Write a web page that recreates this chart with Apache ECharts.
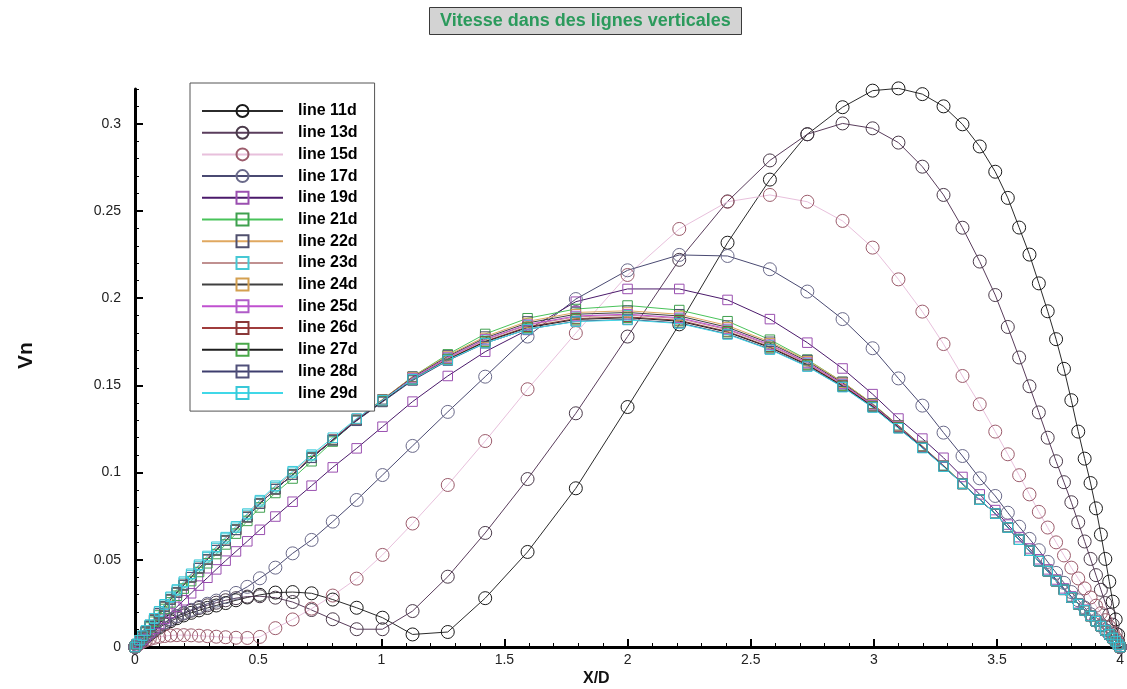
<!DOCTYPE html>
<html>
<head>
<meta charset="utf-8">
<script src="https://cdn.jsdelivr.net/npm/echarts@6/dist/echarts.min.js"></script>
<style>html,body{margin:0;padding:0;background:#fff;}#c{width:1127px;height:689px;}</style>
</head>
<body>
<div id="c"></div>
<script>
// shared x/D grid
const xs = [0,0.008,0.018,0.03,0.044,0.06,0.078,0.098,0.12,0.144,
0.17,0.198,0.228,0.26,0.294,0.33,0.368,0.41,0.456,0.507,
0.57,0.64,0.717,0.803,0.9,1.005,1.127,1.27,1.422,1.594,
1.79,2.0,2.21,2.406,2.578,2.73,2.873,2.995,3.1,3.197,
3.283,3.36,3.43,3.493,3.544,3.59,3.632,3.67,3.706,3.74,
3.772,3.802,3.83,3.856,3.88,3.902,3.922,3.94,3.956,3.97,
3.982,3.992,4.0];

const xTicks = [0,0.5,1,1.5,2,2.5,3,3.5,4];
const yTicks = [0,0.05,0.1,0.15,0.2,0.25,0.3];

const line11d = [0,0.001,0.0023,0.0038,0.0055,0.0073,0.0092,0.0111,0.013,0.0148,
0.0165,0.0181,0.0196,0.021,0.0224,0.0238,0.0252,0.0268,0.0284,0.0299,
0.0312,0.0315,0.0308,0.0272,0.0225,0.0168,0.0072,0.0086,0.028,0.0545,
0.091,0.1376,0.185,0.2318,0.268,0.294,0.3095,0.319,0.3203,0.317,
0.31,0.2997,0.287,0.2725,0.2575,0.2405,0.225,0.2085,0.1925,0.1765,
0.1595,0.1415,0.1235,0.108,0.094,0.0795,0.0645,0.0505,0.0375,0.026,
0.0158,0.007,0];

const line13d = [0,0.0011,0.0025,0.0041,0.0059,0.0078,0.0098,0.0118,0.0138,0.0157,
0.0175,0.0192,0.0208,0.0224,0.0239,0.0254,0.0268,0.028,0.0289,0.0291,
0.0283,0.0258,0.0212,0.0159,0.0102,0.0102,0.0206,0.0403,0.0654,0.0963,
0.134,0.178,0.222,0.2555,0.279,0.294,0.3002,0.2974,0.2892,0.2754,
0.2592,0.2404,0.221,0.2018,0.1835,0.166,0.1495,0.1345,0.12,0.1065,
0.0945,0.083,0.0715,0.0605,0.0505,0.0412,0.0328,0.0252,0.0185,0.0128,
0.0078,0.0034,0];

const line15d = [0,0.0009,0.0019,0.0029,0.0038,0.0046,0.0053,0.0059,0.0063,0.0066,
0.0068,0.0068,0.0067,0.0065,0.0062,0.0059,0.0056,0.0053,0.0052,0.0058,
0.0108,0.0158,0.022,0.0295,0.0392,0.0528,0.0708,0.0929,0.1181,0.1478,
0.18,0.2133,0.2397,0.2553,0.2592,0.2553,0.2443,0.229,0.2108,0.1923,
0.1737,0.1554,0.1392,0.1235,0.1105,0.0985,0.0875,0.0775,0.0685,0.06,
0.0525,0.0455,0.0393,0.0336,0.0284,0.0237,0.0194,0.0154,0.0117,0.0083,
0.0052,0.0023,0];

const line17d = [0,0.0012,0.0026,0.0043,0.0062,0.0082,0.0102,0.0122,0.0141,0.016,
0.0178,0.0196,0.0213,0.023,0.0248,0.0266,0.0286,0.031,0.0345,0.0394,
0.0455,0.0537,0.0614,0.0719,0.0843,0.0986,0.1153,0.1348,0.155,0.178,
0.1995,0.216,0.2248,0.2242,0.2166,0.2038,0.188,0.1713,0.154,0.1384,
0.1229,0.1095,0.0967,0.0866,0.077,0.069,0.062,0.0555,0.0488,0.0425,
0.0368,0.0315,0.0268,0.0226,0.0188,0.0154,0.0124,0.0097,0.0073,0.0052,
0.0032,0.0014,0];

const line19d = [0,0.0011,0.0025,0.0041,0.006,0.0081,0.0105,0.0132,0.0162,0.0195,
0.023,0.0268,0.0308,0.0352,0.0397,0.0445,0.0495,0.0548,0.0606,0.0672,
0.0748,0.0833,0.0925,0.103,0.1139,0.1263,0.1407,0.1554,0.1693,0.1818,
0.198,0.2053,0.2053,0.199,0.188,0.1745,0.1597,0.145,0.131,0.1195,
0.1085,0.0975,0.0875,0.0785,0.0702,0.063,0.0565,0.0503,0.0445,0.0387,
0.0336,0.029,0.0251,0.0214,0.0181,0.015,0.0122,0.0097,0.0073,0.0053,
0.0033,0.0014,0];

const line21d = [0,0.0015,0.0034,0.0056,0.0082,0.0112,0.0145,0.0181,0.0218,0.0256,
0.0294,0.0335,0.0378,0.043,0.048,0.0533,0.0588,0.065,0.0723,0.08,
0.0883,0.0966,0.1065,0.1178,0.1303,0.1418,0.155,0.1678,0.1795,0.1885,
0.1938,0.1958,0.1932,0.1868,0.1762,0.1648,0.152,0.1395,0.127,0.1152,
0.1041,0.0938,0.0845,0.0765,0.0685,0.0615,0.0552,0.0492,0.0435,0.0378,
0.0328,0.0284,0.0246,0.021,0.0178,0.0148,0.012,0.0095,0.0072,0.0052,
0.0032,0.0014,0];

const line22d = [0,0.0016,0.0036,0.006,0.0088,0.012,0.0155,0.0193,0.0232,0.0272,
0.0312,0.0355,0.04,0.0452,0.0502,0.0555,0.061,0.0672,0.0745,0.0822,
0.0905,0.0988,0.1085,0.119,0.1307,0.142,0.155,0.1672,0.178,0.1867,
0.1918,0.1928,0.1908,0.1843,0.175,0.1645,0.152,0.1395,0.127,0.1152,
0.104,0.0935,0.0845,0.0765,0.0685,0.0615,0.0552,0.0492,0.0435,0.0378,
0.0328,0.0284,0.0246,0.021,0.0178,0.0148,0.012,0.0095,0.0072,0.0052,
0.0032,0.0014,0];

const line23d = [0,0.0017,0.0038,0.0063,0.0093,0.0127,0.0163,0.0202,0.0242,0.0283,
0.0324,0.0367,0.0412,0.0464,0.0514,0.0567,0.0622,0.0684,0.0757,0.0834,
0.0917,0.1,0.1095,0.1188,0.1302,0.1413,0.1539,0.1657,0.1761,0.1845,
0.1893,0.1903,0.1883,0.1819,0.1729,0.1628,0.1506,0.1385,0.1263,0.1147,
0.1038,0.0937,0.0846,0.0766,0.0686,0.0616,0.0553,0.0493,0.0436,0.0379,
0.0329,0.0285,0.0247,0.0211,0.0179,0.0149,0.0121,0.0096,0.0073,0.0053,
0.0033,0.0015,0];

const line24d = [0,0.0016,0.0036,0.006,0.0088,0.012,0.0155,0.0193,0.0232,0.0272,
0.0312,0.0355,0.04,0.0452,0.0502,0.0555,0.061,0.0672,0.0745,0.0822,
0.0905,0.0988,0.1085,0.1189,0.1305,0.1417,0.1546,0.1666,0.1772,0.1858,
0.1908,0.1918,0.1898,0.1833,0.1742,0.1638,0.1514,0.1391,0.1267,0.115,
0.1039,0.0935,0.0845,0.0765,0.0685,0.0615,0.0552,0.0492,0.0435,0.0378,
0.0328,0.0284,0.0246,0.021,0.0178,0.0148,0.012,0.0095,0.0072,0.0052,
0.0032,0.0014,0];

const line25d = [0,0.0016,0.0036,0.006,0.0088,0.012,0.0155,0.0193,0.0232,0.0272,
0.0312,0.0355,0.04,0.0452,0.0502,0.0555,0.061,0.0672,0.0745,0.0822,
0.0905,0.0988,0.1085,0.1188,0.1303,0.1414,0.1542,0.166,0.1765,0.1849,
0.1898,0.1908,0.1888,0.1824,0.1734,0.1631,0.1509,0.1387,0.1264,0.1148,
0.1038,0.0935,0.0845,0.0765,0.0685,0.0615,0.0552,0.0492,0.0435,0.0378,
0.0328,0.0284,0.0246,0.021,0.0178,0.0148,0.012,0.0095,0.0072,0.0052,
0.0032,0.0014,0];

const line26d = [0,0.0016,0.0036,0.006,0.0088,0.012,0.0155,0.0193,0.0232,0.0272,
0.0312,0.0355,0.04,0.0452,0.0502,0.0555,0.061,0.0672,0.0745,0.0822,
0.0905,0.0988,0.1085,0.1187,0.13,0.141,0.1535,0.1651,0.1753,0.1836,
0.1883,0.1893,0.1873,0.1809,0.1721,0.1621,0.15,0.1381,0.126,0.1145,
0.1037,0.0935,0.0845,0.0765,0.0685,0.0615,0.0552,0.0492,0.0435,0.0378,
0.0328,0.0284,0.0246,0.021,0.0178,0.0148,0.012,0.0095,0.0072,0.0052,
0.0032,0.0014,0];

const line27d = [0,0.0016,0.0036,0.006,0.0088,0.012,0.0155,0.0193,0.0232,0.0272,
0.0312,0.0355,0.04,0.0452,0.0502,0.0555,0.061,0.0672,0.0745,0.0822,
0.0905,0.0988,0.1085,0.1186,0.1299,0.1408,0.1533,0.1648,0.175,0.1831,
0.1878,0.1888,0.1868,0.1805,0.1717,0.1617,0.1497,0.1379,0.1258,0.1144,
0.1036,0.0935,0.0845,0.0765,0.0685,0.0615,0.0552,0.0492,0.0435,0.0378,
0.0328,0.0284,0.0246,0.021,0.0178,0.0148,0.012,0.0095,0.0072,0.0052,
0.0032,0.0014,0];

const line28d = [0,0.0016,0.0036,0.006,0.0088,0.012,0.0155,0.0193,0.0232,0.0272,
0.0312,0.0355,0.04,0.0452,0.0502,0.0555,0.061,0.0672,0.0745,0.0822,
0.0905,0.0988,0.1085,0.1185,0.1297,0.1405,0.1528,0.1642,0.1742,0.1822,
0.1868,0.1878,0.1858,0.1795,0.1708,0.161,0.1492,0.1375,0.1255,0.1142,
0.1035,0.0935,0.0845,0.0765,0.0685,0.0615,0.0552,0.0492,0.0435,0.0378,
0.0328,0.0284,0.0246,0.021,0.0178,0.0148,0.012,0.0095,0.0072,0.0052,
0.0032,0.0014,0];

const line29d = [0,0.0017,0.0039,0.0065,0.0095,0.0128,0.0165,0.0205,0.0245,0.0288,
0.033,0.0375,0.042,0.0472,0.0522,0.0575,0.063,0.0692,0.0765,0.0842,
0.0925,0.1008,0.1103,0.12,0.131,0.1415,0.1535,0.1645,0.1742,0.1822,
0.1866,0.1875,0.1855,0.1792,0.1705,0.1608,0.149,0.1373,0.1254,0.1141,
0.1034,0.0935,0.0845,0.0765,0.0685,0.0615,0.0552,0.0492,0.0435,0.0378,
0.0328,0.0284,0.0246,0.021,0.0178,0.0148,0.012,0.0095,0.0072,0.0052,
0.0032,0.0014,0];

const seriesNames = ['line 11d','line 13d','line 15d','line 17d','line 19d','line 21d','line 22d','line 23d','line 24d','line 25d','line 26d','line 27d','line 28d','line 29d'];
const seriesValues = [line11d,line13d,line15d,line17d,line19d,line21d,line22d,line23d,line24d,line25d,line26d,line27d,line28d,line29d];
const symbols = ['circle','circle','circle','circle','rect','rect','rect','rect','rect','rect','rect','rect','rect','rect'];
const lineColors = ['#2b2b2b','#5a3d5c','#e8c0dc','#4a4a72','#4b1a6b','#49c35a','#e0a860','#c09090','#404040','#c050d0','#a03c3c','#1e1e1e','#3e3e6e','#40d8e8'];
const markerColors = ['#1a1a1a','#4a3a4a','#9c5c6c','#6a6a8a','#9a4fb0','#3fa04f','#50506e','#46c8d4','#d4a050','#b05cc8','#8a3838','#4aa84a','#50507a','#38c8d8'];

const FONT = "'Liberation Sans', Arial, sans-serif";
const chart = echarts.init(document.getElementById('c'), null, {renderer: 'canvas'});

function isTick(v, ticks) { return ticks.some(t => Math.abs(t - v) < 1e-6); }

const series = seriesNames.map((name, i) => ({
  name: name,
  type: 'line',
  xAxisIndex: 0,
  yAxisIndex: 0,
  data: xs.map((x, j) => [x, seriesValues[i][j]]),
  symbol: symbols[i],
  symbolSize: symbols[i] === 'circle' ? 13 : 9.5,
  showSymbol: true,
  clip: false,
  lineStyle: {color: lineColors[i], width: 1},
  itemStyle: {color: 'rgba(255,255,255,0)', borderColor: markerColors[i], borderWidth: 1},
  emphasis: {disabled: true},
  animation: false
}));

const option = {
  animation: false,
  backgroundColor: '#ffffff',
  title: {
    text: 'Vitesse dans des lignes verticales',
    left: 429, top: 7,
    padding: [5, 11, 5, 11],
    backgroundColor: '#d3d3d3',
    borderColor: '#3a3a3a',
    borderWidth: 1,
    textStyle: {color: '#2b9a5c', fontWeight: 'bold', fontSize: 18, fontFamily: FONT}
  },
  legend: {
    orient: 'vertical',
    left: 190, top: 83,
    padding: [20, 17, 10, 11],
    itemWidth: 81, itemHeight: 15, itemGap: 5.7,
    backgroundColor: '#ffffff',
    borderColor: '#555555', borderWidth: 1,
    textStyle: {color: '#000', fontWeight: 'bold', fontSize: 16, fontFamily: FONT, padding: [0, 0, 0, 10]},
    data: seriesNames
  },
  grid: {left: 135, right: 4, top: 88.9, bottom: 42},
  xAxis: [
    {
      type: 'value', min: 0, max: 4, interval: 0.1, position: 'bottom',
      axisLine: {show: true, lineStyle: {color: '#000', width: 3}},
      axisTick: {show: true, inside: true, length: 4, lineStyle: {color: '#000', width: 1}},
      axisLabel: {show: true, interval: 0, margin: 6, color: '#222', fontSize: 14, fontFamily: FONT,
        customValues: xTicks,
        formatter: v => isTick(v, xTicks) ? String(+v.toFixed(2)) : ''},
      splitLine: {show: false}
    },
    {
      type: 'value', min: 0, max: 4, interval: 0.5, position: 'bottom', offset: 0,
      axisLine: {show: false},
      axisTick: {show: true, inside: true, length: 8, lineStyle: {color: '#000', width: 2}, customValues: xTicks},
      axisLabel: {show: false},
      splitLine: {show: false}
    }
  ],
  yAxis: [
    {
      type: 'value', min: 0, max: 0.32, interval: 0.01, position: 'left',
      axisLine: {show: true, lineStyle: {color: '#000', width: 3}},
      axisTick: {show: true, inside: true, length: 4, lineStyle: {color: '#000', width: 1}},
      axisLabel: {show: true, interval: 0, margin: 14, color: '#222', fontSize: 14, fontFamily: FONT,
        customValues: yTicks,
        formatter: v => isTick(v, yTicks) ? String(+v.toFixed(2)) : ''},
      splitLine: {show: false}
    },
    {
      type: 'value', min: 0, max: 0.32, interval: 0.05, position: 'left', offset: 0,
      axisLine: {show: false},
      axisTick: {show: true, inside: true, length: 8, lineStyle: {color: '#000', width: 2}, customValues: yTicks},
      axisLabel: {show: false},
      splitLine: {show: false}
    }
  ],
  graphic: [
    {type: 'text', left: 583, top: 671, style: {text: 'X/D', fill: '#111', font: 'bold 16px ' + FONT}},
    {type: 'text', x: 16, y: 369, rotation: Math.PI / 2, style: {text: 'Vn', fill: '#111', font: 'bold 21px ' + FONT}}
  ],
  series: series
};
chart.setOption(option);
</script>
</body>
</html>
